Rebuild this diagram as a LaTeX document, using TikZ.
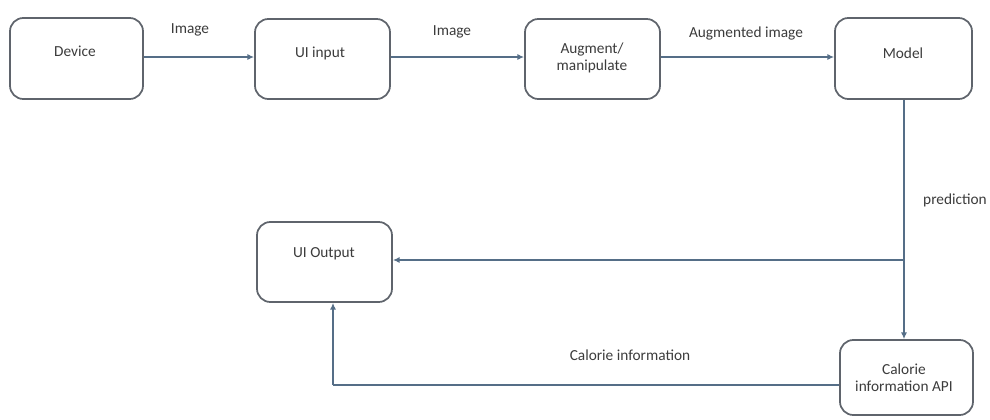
\documentclass[tikz,border=0pt]{standalone}
\usepackage{fontspec}
\setmainfont{Carlito}
\usetikzlibrary{arrows.meta}
\definecolor{boxline}{RGB}{95,100,108}
\definecolor{conn}{RGB}{85,110,135}
\definecolor{txtc}{RGB}{60,60,60}
\tikzset{
  box/.style={draw=boxline, line width=1.3pt, rounded corners=10pt, fill=white, inner sep=0pt},
  txt/.style={text=txtc, font=\fontsize{11.5}{13}\selectfont, inner sep=0pt, align=center},
  conline/.style={draw=conn, line width=1pt},
  arr/.style={conline, -{Latex[length=5pt,width=4.5pt]}}
}
\begin{document}
\begin{tikzpicture}[x=0.75pt,y=-0.75pt]
\useasboundingbox[fill=white] (0,0) rectangle (990,419);
% boxes
\node[box, minimum width=133*0.75pt, minimum height=81*0.75pt] (dev) at (76.5,58.5) {};
\node[box, minimum width=135*0.75pt, minimum height=80*0.75pt] (ui) at (322.5,59) {};
\node[box, minimum width=135*0.75pt, minimum height=80*0.75pt] (aug) at (592.5,59) {};
\node[box, minimum width=137*0.75pt, minimum height=81*0.75pt] (model) at (903.5,58.5) {};
\node[box, minimum width=135*0.75pt, minimum height=80*0.75pt] (uiout) at (324.5,262) {};
\node[box, minimum width=133*0.75pt, minimum height=75*0.75pt] (cal) at (906.5,377.5) {};
% box texts
\node[txt] (devt) at (75,51) {Device};
\node[txt] (uit) at (320,53) {UI input};
\node[txt] (augt) at (592,58) {Augment/\\manipulate};
\node[txt] (modelt) at (903,53) {Model};
\node[txt] (uioutt) at (324,254) {UI Output};
\node[txt] (calt) at (904,378) {Calorie\\information API};
% connectors
\draw[arr] (dev.east |- 0,57) -- (ui.west |- 0,57);
\draw[arr] (ui.east |- 0,57) -- (aug.west |- 0,57);
\draw[arr] (aug.east |- 0,57) -- (model.west |- 0,57);
\draw[arr] (904,0 |- model.south) -- (904,0 |- cal.north);
\coordinate (j) at (904,260);
\draw[arr] (j) -- (uiout.east |- j);
\coordinate (k) at (333,385);
\draw[conline] (cal.west |- k) -- (k);
\draw[arr] (k) -- (k |- uiout.south);
% labels
\node[txt] (l1) at (190,30) {Image};
\node[txt] (l2) at (452,32) {Image};
\node[txt] (l3) at (746,33) {Augmented image};
\node[txt] (l4) at (955,200) {prediction};
\node[txt] (l5) at (630,355) {Calorie information};
\end{tikzpicture}
\end{document}
